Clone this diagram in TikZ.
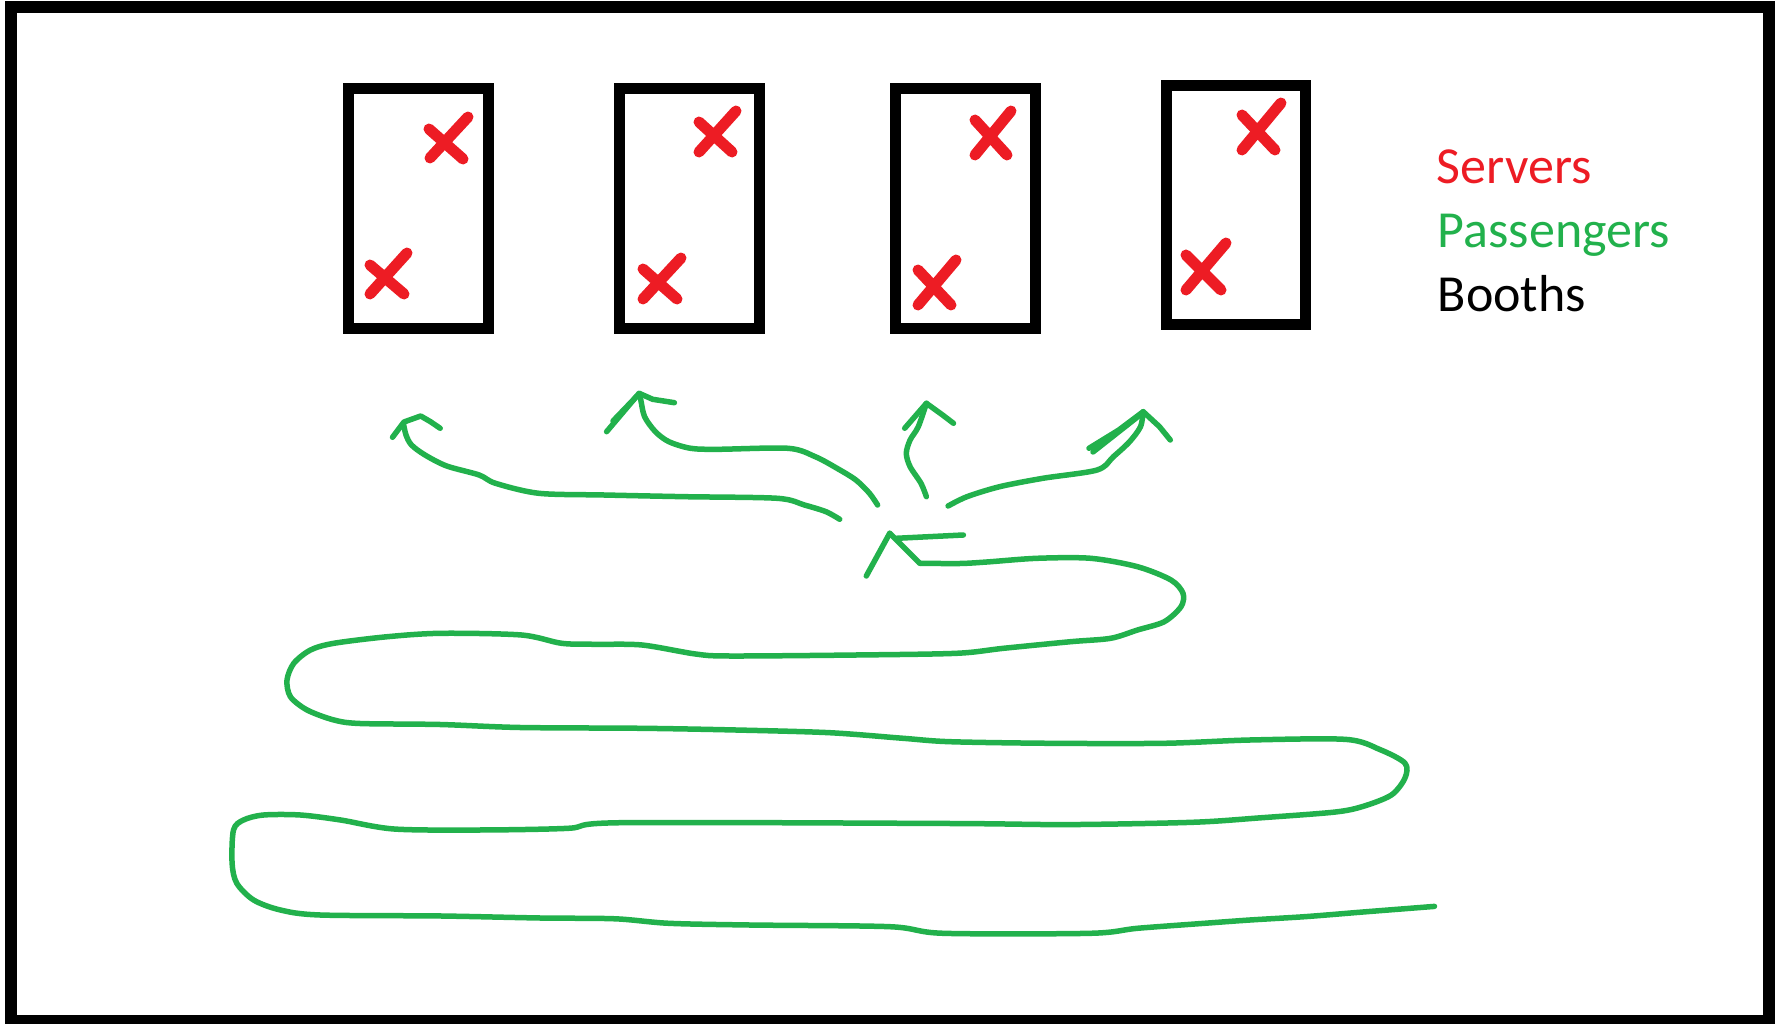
\documentclass[tikz,border=0pt]{standalone}
\usepackage{fontspec}
\setmainfont{Carlito}
\definecolor{paintred}{RGB}{237,28,36}
\definecolor{paintgreen}{RGB}{34,177,76}
\tikzset{
  frame/.style={draw=black, line width=1.2mm},
  booth/.style={draw=black, line width=1.1mm, inner sep=0pt, outer sep=0pt,
                minimum width=13.95mm, minimum height=24mm},
  server/.style={draw=paintred, line width=1.1mm, line cap=round},
  walk/.style={draw=paintgreen, line width=0.55mm, line cap=round, line join=round},
  legend/.style={anchor=base west, inner sep=0pt, font=\fontsize{14.8pt}{18pt}\selectfont},
}
\begin{document}
\begin{tikzpicture}[x=0.1mm,y=-0.1mm]
\useasboundingbox (0,0) rectangle (1781,1024);
\fill[white] (0,0) rectangle (1781,1024);
% outer frame
\draw[frame] (11,7.5) rectangle (1769,1021);

% booths
\node[booth] (booth1) at (418.5,209) {};
\node[booth] (booth2) at (689.5,209) {};
\node[booth] (booth3) at (965.3,209) {};
\node[booth, minimum height=23.95mm] (booth4) at (1236,204.8) {};

% servers (two per booth)
\draw[server] (429,129) -- (463,159) (430,158) -- (468,117);
\draw[server] (370,265) -- (404,294) (370,294) -- (407,253);
\draw[server] (699,122) -- (732,152) (699,152) -- (736,111);
\draw[server] (643,269) -- (677,299) (643,299) -- (681,258);
\draw[server] (975,120) -- (1007,155) (975,155) -- (1011,111);
\draw[server] (918,270) -- (951,305) (918,305) -- (956,260);
\draw[server] (1242,115) -- (1275,150) (1242,150) -- (1281,103);
\draw[server] (1186,255) -- (1221,290) (1186,290) -- (1226,243);

% legend
\node[legend, text=paintred]   (lserv) at (1436,184) {Servers};
\node[legend, text=paintgreen] (lpass) at (1437,248) {Passengers};
\node[legend, text=black]      (lbooth) at (1437,312) {Booths};

% queue of passengers winding up to the front
\draw[walk] (889.7,533.3) -- (906.5,550) -- (919.9,563.3);
\draw[walk] plot[smooth, tension=0.5] coordinates {
  (919.9,563.3) (960,563.5) (986.8,562) (1037.1,558.3) (1090.6,558.3)
  (1137.5,566.7) (1171,580) (1183,593.3) (1181,606.7) (1164.3,621.7)
  (1137.5,630) (1110.7,638.3) (1070.6,641.7) (1003.6,648.3) (956.7,653.3)
  (856.3,655) (729,656) (695.5,654) (642,645) (595.1,644.3) (561.6,643.3)
  (521.4,635) (441.1,633.3) (387.5,636.7) (333.9,643.3) (310.5,650)
  (293.8,663.3) (287,680) (290.4,696.7) (307.1,710) (333.9,720) (360,723.5)
  (440,724.5) (520,727.5) (642,728.3) (735.7,730) (829.5,732.7)
  (903.1,738.3) (950,741.7) (1050.5,743.3) (1164.3,743.3) (1250,740)
  (1345.9,739.4) (1380,749.6) (1405,763.2) (1405,778) (1391.4,795)
  (1363,806.4) (1334.6,812.1) (1260.7,817.8) (1192.6,822.3) (1067.6,824.6)
  (950,823.5) (621.9,822.7) (568.3,828.3) (480,830) (394,829)
  (340.6,820) (300.4,815) (263.6,815) (243.5,820) (233.5,830) (232.1,863.3)
  (236.8,883.3) (253.6,900) (280.4,910) (320,915) (441.1,916) (540,918)
  (615.2,918.8) (668.8,923.3) (749.1,925) (889.7,926.7) (943.3,933.3)
  (1090.6,933.3) (1137.5,928.3) (1204.5,923.3) (1250,920) (1306,916.6)
  (1363,912) (1434.5,906.4)};
\draw[walk] (866.3,576) -- (889.7,533.3);
\draw[walk] (896.4,538.3) -- (963.4,535);

% paths from the head of the queue to each booth
\draw[walk] plot[smooth, tension=0.5] coordinates {
  (839.7,519.3) (826,511.7) (804.4,505) (777.3,498.3) (685.2,496.7)
  (603.9,495) (538.9,493.3) (495.5,483.3) (479.2,475) (446.7,466) (425,455)
  (411.5,445) (406,435) (403.4,423.3)};
\draw[walk] (392.5,437.3) -- (404,422) -- (420.7,416) -- (430.5,421.7) -- (440.2,428.3);

\draw[walk] plot[smooth, tension=0.5] coordinates {
  (877.6,505) (869.5,493.3) (855.9,480) (837,468.3) (815.3,456.7) (788.2,448.3)
  (717.7,449.3) (690.6,448.3) (668.9,441.7) (655.4,431.7) (644.6,416.7)
  (640.8,400) (639.1,393.3)};
\draw[walk] (606.6,431.7) -- (639.1,393.3) -- (652.7,399.3) -- (674.4,402.7);
\draw[walk] (613,421) -- (637,396);

\draw[walk] plot[smooth, tension=0.5] coordinates {
  (926.4,496.7) (921,483.3) (910.1,466.7) (906.3,453.3) (910.1,440)
  (918.3,426.7) (926.4,403.3)};
\draw[walk] (904.7,428.3) -- (926.4,403.3) -- (942.6,415) -- (953.5,423.3);

\draw[walk] plot[smooth, tension=0.5] coordinates {
  (948.1,506) (967,496.7) (999.6,486.7) (1042.9,478.3) (1097.1,470)
  (1113.4,456.7) (1129.6,441.7) (1140.5,426.7) (1143.2,411.7)};
\draw[walk] (1089,448.3) -- (1118.8,430) -- (1143.2,411.7) -- (1159.5,426.7) -- (1170.3,440);
\draw[walk] (1093,452) -- (1140,415);
\end{tikzpicture}
\end{document}
